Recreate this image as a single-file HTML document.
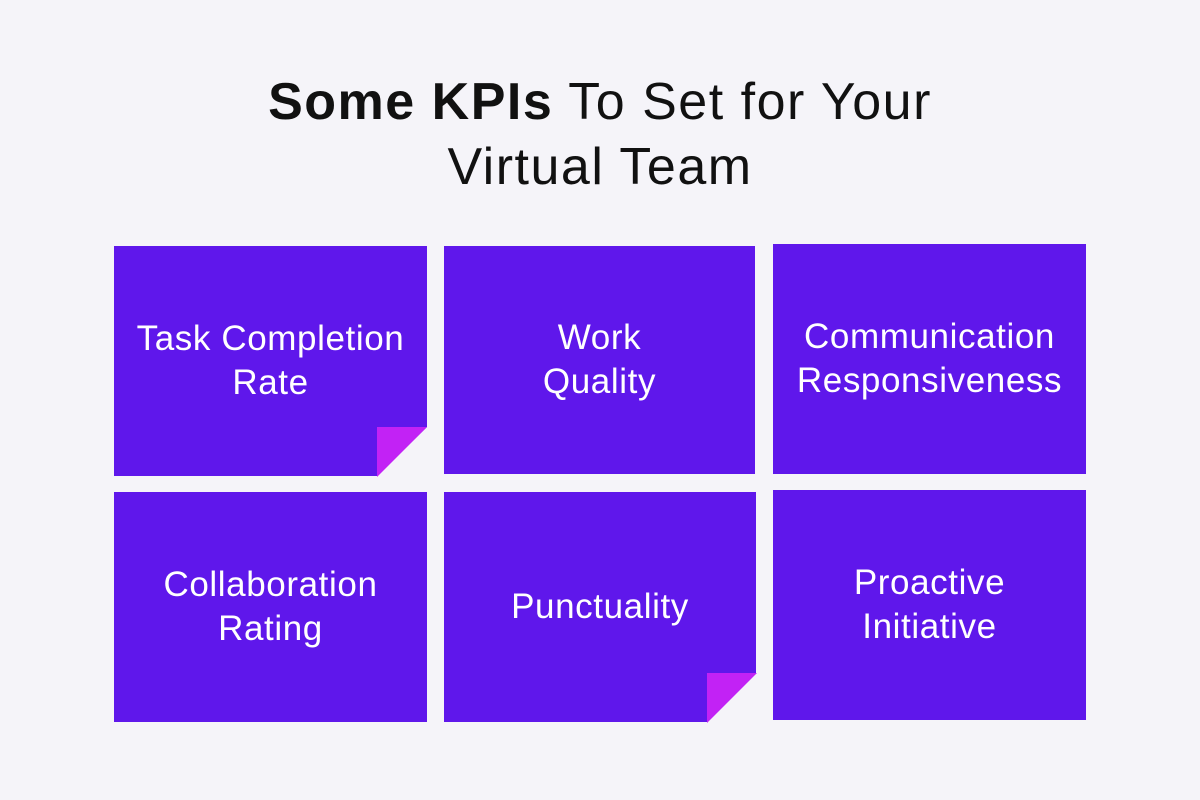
<!DOCTYPE html>
<html><head><style>
body{margin:0;width:1200px;height:800px;background:#f5f4f9;position:relative;overflow:hidden;font-family:"Liberation Sans",sans-serif}
h1{position:absolute;top:70px;left:0;width:1200px;margin:0;text-align:center;font-weight:400;font-size:52px;letter-spacing:1.5px;line-height:65px;color:#111}
.c{position:absolute;background:#5f17eb;color:#fff;display:flex;align-items:center;justify-content:center;text-align:center;font-size:35px;letter-spacing:0.6px;line-height:44px}
.f{position:absolute;width:50px;height:50px;background:#c222f5;clip-path:polygon(0 0,100% 0,0 100%)}
</style></head><body>
<h1><b>Some KPIs</b> To Set for Your<br>Virtual Team</h1>
<div class="c" style="left:114px;top:246px;width:313px;height:230px;clip-path:polygon(0 0,100% 0,100% 181px,263px 100%,0 100%)">Task Completion<br>Rate</div>
<div class="f" style="left:377px;top:427px"></div>
<div class="c" style="left:444px;top:246px;width:311px;height:228px">Work<br>Quality</div>
<div class="c" style="left:773px;top:244px;width:313px;height:230px">Communication<br>Responsiveness</div>
<div class="c" style="left:114px;top:492px;width:313px;height:230px">Collaboration<br>Rating</div>
<div class="c" style="left:444px;top:492px;width:312px;height:230px;clip-path:polygon(0 0,100% 0,100% 181px,263px 100%,0 100%)">Punctuality</div>
<div class="f" style="left:707px;top:673px"></div>
<div class="c" style="left:773px;top:490px;width:313px;height:230px">Proactive<br>Initiative</div>
</body></html>
